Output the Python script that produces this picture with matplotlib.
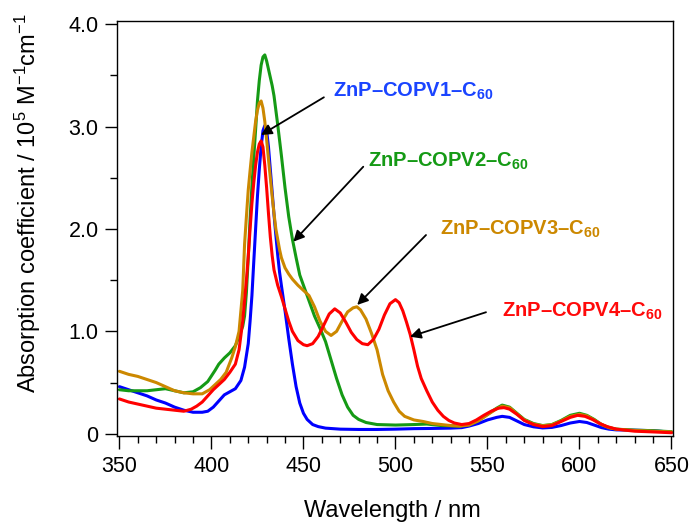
import matplotlib
matplotlib.use("Agg")
import matplotlib.pyplot as plt
from matplotlib.ticker import MultipleLocator, FixedLocator

plt.rcParams['font.family'] = ['Liberation Sans', 'DejaVu Sans']
plt.rcParams['mathtext.fontset'] = 'custom'
plt.rcParams['mathtext.rm'] = 'Liberation Sans'
plt.rcParams['mathtext.it'] = 'Liberation Sans:italic'
plt.rcParams['mathtext.bf'] = 'Liberation Sans:bold'

# ---------------- data ----------------
wl_v1 = [350, 355, 360, 365, 370, 375, 380, 385, 390, 395, 398, 401, 404, 407, 410, 413, 416, 418,
         420, 421, 422, 423, 424, 425, 426, 427, 428, 429, 430, 431, 432, 433, 434, 435, 436, 437,
         438, 440, 442, 444, 446, 448, 450, 452, 455, 458, 462, 470, 480, 490, 500, 510, 520, 530,
         536, 540, 545, 550, 555, 558, 562, 566, 570, 575, 580, 585, 590, 595, 600, 604, 608, 612,
         616, 620, 630, 640, 650]
abs_v1 = [0.46, 0.43, 0.40, 0.37, 0.33, 0.30, 0.26, 0.23, 0.21, 0.21, 0.22, 0.26, 0.32, 0.38, 0.41,
          0.44, 0.52, 0.65, 0.88, 1.10, 1.35, 1.68, 2.00, 2.32, 2.58, 2.80, 2.96, 3.01, 2.96, 2.80,
          2.58, 2.36, 2.14, 1.94, 1.75, 1.58, 1.45, 1.20, 0.93, 0.68, 0.46, 0.30, 0.20, 0.14, 0.09,
          0.07, 0.055, 0.045, 0.042, 0.042, 0.045, 0.05, 0.052, 0.055, 0.06, 0.075, 0.10, 0.135,
          0.16, 0.17, 0.16, 0.125, 0.09, 0.068, 0.057, 0.062, 0.08, 0.105, 0.12, 0.11, 0.085, 0.06,
          0.045, 0.038, 0.035, 0.03, 0.015]

wl_v2 = [350, 355, 360, 365, 370, 375, 380, 385, 390, 394, 398, 402, 404, 407, 410, 413, 415, 417,
         418, 419, 420, 421, 422, 423, 424, 425, 426, 427, 428, 429, 430, 431, 432, 433, 434, 436,
         438, 440, 442, 444, 446, 448, 450, 453, 456, 459, 462, 465, 468, 471, 474, 477, 480, 484,
         490, 500, 510, 517, 525, 535, 540, 545, 550, 555, 558, 562, 566, 570, 575, 580, 585, 590,
         595, 600, 604, 608, 612, 616, 620, 630, 640, 650]
abs_v2 = [0.43, 0.42, 0.42, 0.42, 0.43, 0.44, 0.42, 0.40, 0.41, 0.45, 0.51, 0.62, 0.68, 0.74, 0.79,
          0.86, 0.95, 1.05, 1.15, 1.38, 1.72, 2.10, 2.42, 2.70, 2.97, 3.25, 3.45, 3.60, 3.68, 3.70,
          3.64, 3.56, 3.48, 3.40, 3.30, 3.02, 2.72, 2.40, 2.12, 1.90, 1.72, 1.55, 1.45, 1.30, 1.15,
          1.03, 0.90, 0.72, 0.54, 0.38, 0.26, 0.18, 0.14, 0.11, 0.09, 0.085, 0.09, 0.095, 0.08,
          0.075, 0.09, 0.13, 0.19, 0.25, 0.28, 0.26, 0.20, 0.14, 0.10, 0.08, 0.09, 0.13, 0.18, 0.20,
          0.18, 0.14, 0.09, 0.06, 0.045, 0.035, 0.03, 0.02]

wl_v3 = [350, 355, 360, 365, 370, 375, 380, 385, 390, 395, 399, 402, 405, 408, 411, 413, 415, 417,
         418, 419, 420, 421, 422, 423, 424, 425, 426, 427, 428, 429, 430, 431, 432, 433, 434, 435,
         436, 437, 438, 440, 442, 444, 447, 450, 453, 456, 459, 462, 465, 468, 471, 474, 477, 479,
         481, 484, 487, 490, 493, 496, 499, 502, 505, 510, 515, 520, 525, 530, 535, 540, 545, 550,
         555, 558, 562, 566, 570, 575, 580, 585, 590, 595, 600, 604, 608, 612, 616, 620, 630, 640,
         650]
abs_v3 = [0.61, 0.58, 0.56, 0.53, 0.50, 0.46, 0.42, 0.40, 0.39, 0.39, 0.43, 0.48, 0.53, 0.60, 0.74,
          0.85, 1.00, 1.40, 1.85, 2.12, 2.38, 2.57, 2.75, 2.90, 3.05, 3.16, 3.23, 3.25, 3.18, 3.05,
          2.87, 2.68, 2.50, 2.32, 2.15, 2.00, 1.90, 1.80, 1.72, 1.62, 1.56, 1.51, 1.45, 1.40, 1.35,
          1.24, 1.10, 1.00, 0.96, 1.00, 1.10, 1.19, 1.23, 1.24, 1.21, 1.12, 0.98, 0.82, 0.58, 0.42,
          0.31, 0.22, 0.17, 0.135, 0.12, 0.10, 0.09, 0.08, 0.075, 0.085, 0.125, 0.185, 0.245, 0.27,
          0.255, 0.195, 0.135, 0.095, 0.078, 0.088, 0.125, 0.17, 0.19, 0.175, 0.135, 0.09, 0.06,
          0.045, 0.032, 0.025, 0.018]

wl_v4 = [350, 355, 360, 365, 370, 375, 380, 385, 389, 392, 395, 398, 401, 404, 407, 410, 413, 415,
         417, 418, 419, 420, 421, 422, 423, 424, 425, 426, 427, 428, 429, 430, 431, 432, 433, 434,
         436, 438, 440, 442, 444, 447, 450, 452, 455, 458, 461, 464, 467, 470, 473, 476, 479, 482,
         485, 488, 491, 494, 497, 500, 502, 504, 506, 508, 510, 512, 514, 517, 520, 523, 526, 529,
         532, 536, 540, 544, 548, 552, 556, 559, 562, 566, 570, 575, 580, 585, 590, 595, 599, 603,
         607, 611, 615, 620, 630, 640, 650]
abs_v4 = [0.34, 0.31, 0.29, 0.27, 0.25, 0.24, 0.23, 0.22, 0.24, 0.27, 0.31, 0.37, 0.43, 0.48, 0.53,
          0.60, 0.68, 0.82, 1.10, 1.30, 1.50, 1.73, 2.00, 2.25, 2.45, 2.62, 2.75, 2.83, 2.86, 2.80,
          2.62, 2.40, 2.15, 1.92, 1.74, 1.60, 1.45, 1.34, 1.22, 1.10, 1.00, 0.91, 0.87, 0.86, 0.88,
          0.95, 1.06, 1.17, 1.22, 1.18, 1.09, 0.99, 0.92, 0.88, 0.87, 0.92, 1.02, 1.16, 1.27, 1.31,
          1.28, 1.20, 1.09, 0.97, 0.82, 0.66, 0.54, 0.42, 0.31, 0.23, 0.17, 0.13, 0.105, 0.09, 0.10,
          0.135, 0.18, 0.22, 0.25, 0.255, 0.24, 0.19, 0.13, 0.09, 0.07, 0.08, 0.12, 0.16, 0.18, 0.17,
          0.14, 0.10, 0.07, 0.045, 0.025, 0.018, 0.01]

labels = ['ZnP–COPV1–C', 'ZnP–COPV2–C', 'ZnP–COPV3–C', 'ZnP–COPV4–C']
subscript = '60'
x_ticks = [350, 400, 450, 500, 550, 600, 650]
y_ticks = [0, 1, 2, 3, 4]
y_ticklabels = ['0', '1.0', '2.0', '3.0', '4.0']

# ---------------- styling ----------------
line_colors = ['#0000ff', '#159a15', '#cc8800', '#ff0000']
text_colors = ['#1a44ff', '#159a15', '#cc8800', '#ff0a0a']
# label anchor (left, baseline) and arrow (tail, head) in data coordinates
label_pos = [(465.9, 3.29), (485.2, 2.61), (524.2, 1.945), (557.7, 1.145)]
arrow_tail = [(461.1, 3.286), (482.5, 2.608), (516.6, 1.941), (549.2, 1.187)]
arrow_head = [(426.9, 2.918), (444.5, 1.876), (479.2, 1.258), (507.9, 0.948)]

fig = plt.figure(figsize=(6.92, 5.23), dpi=100)
ax = fig.add_axes([0.1686, 0.1673, 0.8035, 0.7931])

series = [(wl_v1, abs_v1), (wl_v2, abs_v2), (wl_v3, abs_v3), (wl_v4, abs_v4)]
for (w, a), c in zip(series, line_colors):
    ax.plot(w, a, color=c, lw=2.2, solid_capstyle='round', solid_joinstyle='round')

ax.set_xlim(348.5, 650.65)
ax.set_ylim(-0.017, 4.034)

ax.xaxis.set_major_locator(FixedLocator(x_ticks))
ax.xaxis.set_minor_locator(MultipleLocator(10))
ax.yaxis.set_major_locator(FixedLocator(y_ticks))
ax.yaxis.set_minor_locator(MultipleLocator(0.5))
ax.set_yticklabels(y_ticklabels)

ax.tick_params(axis='both', which='major', direction='out', length=9, width=1.0,
               labelsize=15.5, colors='black')
ax.tick_params(axis='both', which='minor', direction='out', length=5, width=1.0)
ax.tick_params(axis='x', pad=6)
ax.tick_params(axis='y', pad=4)
ax.tick_params(top=False, right=False, which='both')
for s in ax.spines.values():
    s.set_linewidth(1.0)

ax.set_xlabel('Wavelength / nm', fontsize=17)
ax.set_ylabel(r'Absorption coefficient / 10$^{5}$ M$^{-1}$cm$^{-1}$', fontsize=17)
ax.xaxis.set_label_coords(0.495, -0.155)
ax.yaxis.set_label_coords(-0.132, 0.56)

for i in range(4):
    ax.annotate('', xy=arrow_head[i], xytext=arrow_tail[i],
                arrowprops=dict(arrowstyle='-|>', color='black', lw=1.3,
                                mutation_scale=16, shrinkA=0, shrinkB=0))
    ax.text(label_pos[i][0], label_pos[i][1],
            labels[i] + r'$_{\mathbf{' + subscript + r'}}$',
            color=text_colors[i], fontsize=14.5, fontweight='bold',
            ha='left', va='baseline')

fig.savefig('out.png', dpi=100)
